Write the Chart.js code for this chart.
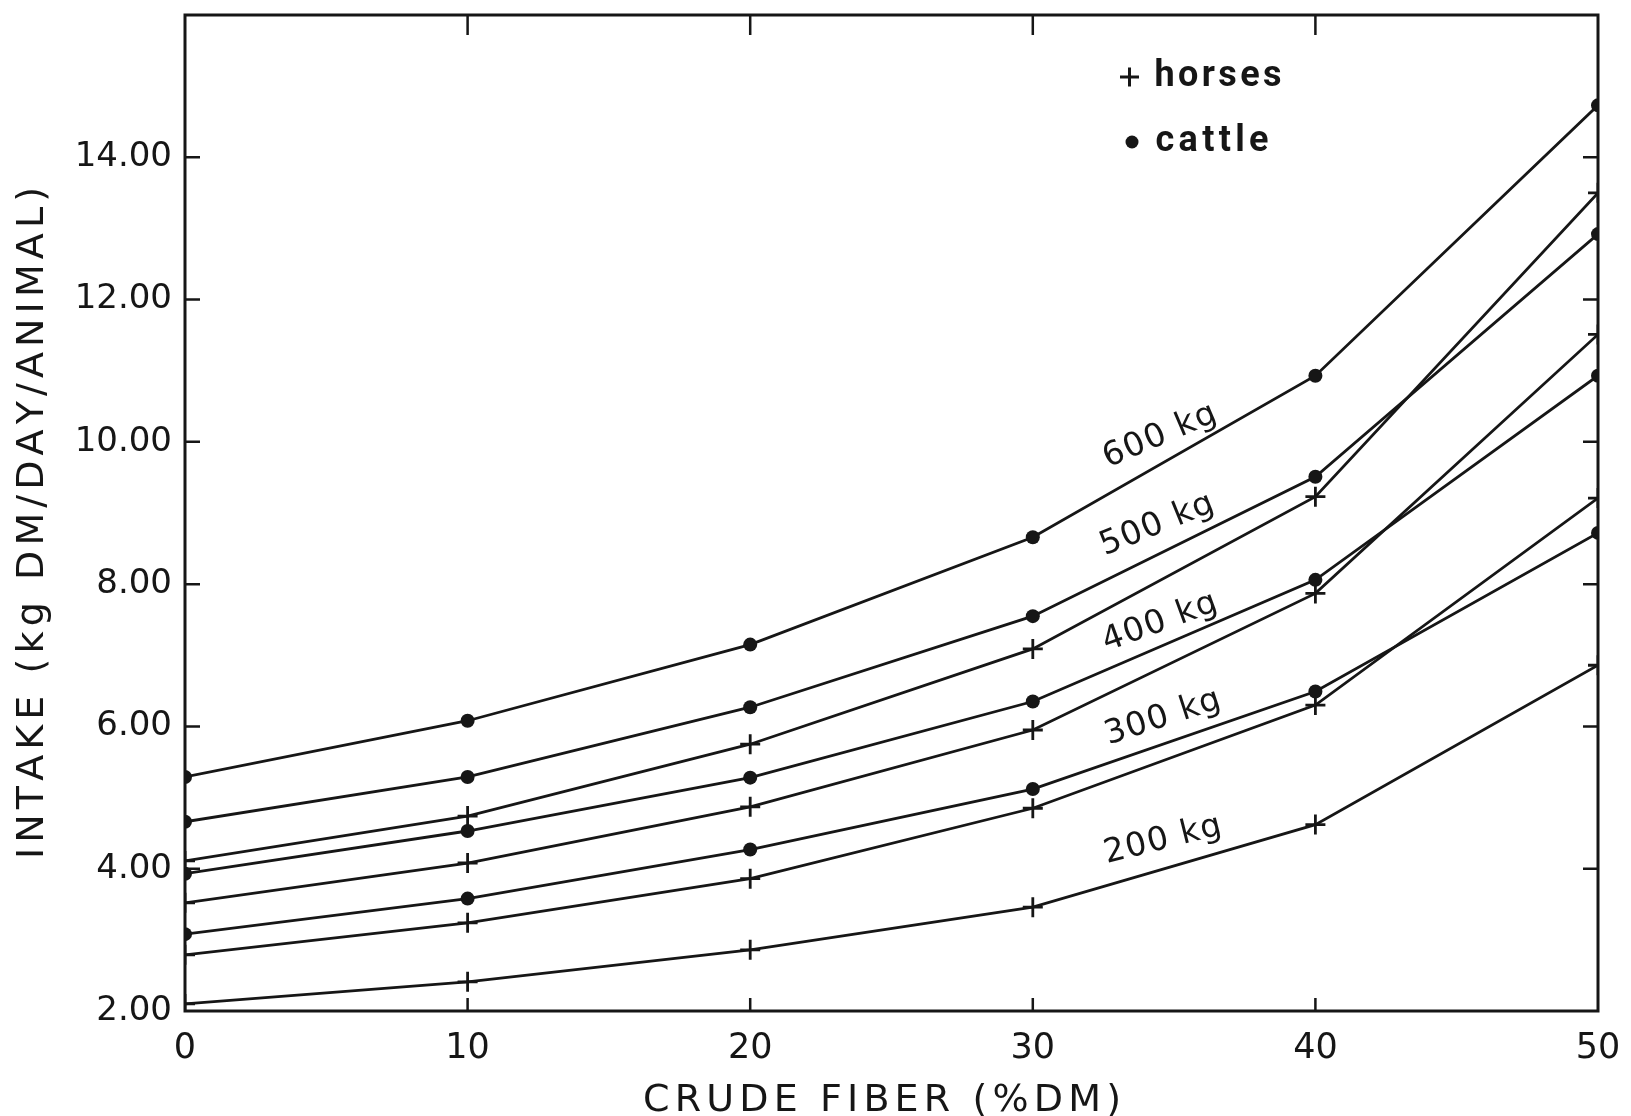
<!DOCTYPE html>
<html>
<head>
<meta charset="utf-8">
<script src="https://cdn.jsdelivr.net/npm/chart.js@4.4.1/dist/chart.umd.min.js"></script>
<style>
  html, body { margin: 0; padding: 0; background: #ffffff; }
  #wrap { width: 1631px; height: 1116px; }
</style>
</head>
<body>
<div id="wrap"><canvas id="c" width="1631" height="1116"></canvas></div>
<script>
// Crude fiber content of the diet (% of dry matter)
const fiber = [0, 10, 20, 30, 40, 50];

// Daily dry-matter intake (kg DM/day/animal), cattle by body weight
const cattle600 = [5.29, 6.08, 7.15, 8.66, 10.93, 14.73];
const cattle500 = [4.66, 5.29, 6.27, 7.55, 9.51, 12.92];
const cattle400 = [3.93, 4.53, 5.28, 6.35, 8.06, 10.93];
const cattle300 = [3.08, 3.58, 4.27, 5.12, 6.49, 8.72];

// Daily dry-matter intake (kg DM/day/animal), horses by body weight
const horses500 = [4.11, 4.74, 5.75, 7.09, 9.23, 13.50];
const horses400 = [3.52, 4.08, 4.87, 5.95, 7.87, 11.51];
const horses300 = [2.79, 3.24, 3.86, 4.85, 6.30, 9.21];
const horses200 = [2.10, 2.41, 2.86, 3.46, 4.62, 6.86];

// Axis ticks
const yTicks = [2, 4, 6, 8, 10, 12, 14];
const xTicks = [0, 10, 20, 30, 40, 50];

// Body-weight labels written along the curves
const weightLabels = ['600 kg', '500 kg', '400 kg', '300 kg', '200 kg'];

const INK = '#161616';
const FONT = '"DejaVu Sans", "Liberation Sans", sans-serif';

// Placement of the body-weight labels in data units, with their tilt
const weightLabelPlacement = [
  { x: 34.5, y: 10.08, angle: -23 },
  { x: 34.4, y: 8.83, angle: -22 },
  { x: 34.5, y: 7.46, angle: -20 },
  { x: 34.6, y: 6.12, angle: -18 },
  { x: 34.6, y: 4.40, angle: -14 }
];

function toPoints(values) {
  return fiber.map((f, i) => ({ x: f, y: values[i] }));
}

function cattleSet(label, values) {
  return {
    label: label,
    data: toPoints(values),
    borderColor: INK,
    borderWidth: 2.8,
    pointStyle: 'circle',
    pointRadius: 7,
    pointBackgroundColor: INK,
    pointBorderColor: INK,
    pointBorderWidth: 0,
    tension: 0,
    fill: false
  };
}

function horseSet(label, values) {
  return {
    label: label,
    data: toPoints(values),
    borderColor: INK,
    borderWidth: 2.8,
    pointStyle: 'cross',
    pointRadius: 10,
    pointBorderColor: INK,
    pointBackgroundColor: INK,
    pointBorderWidth: 2.8,
    tension: 0,
    fill: false
  };
}

// Draws a string centred on (cx, cy), stretching the gaps between letters to a given width
function spacedText(ctx, text, cx, cy, targetWidth) {
  const chars = [...text];
  const widths = chars.map(ch => ctx.measureText(ch).width);
  const natural = widths.reduce((a, b) => a + b, 0);
  const gap = chars.length > 1 ? (targetWidth - natural) / (chars.length - 1) : 0;
  let x = cx - targetWidth / 2;
  ctx.textAlign = 'left';
  ctx.textBaseline = 'middle';
  chars.forEach((ch, i) => {
    ctx.fillText(ch, x, cy);
    x += widths[i] + gap;
  });
}

// Keeps the plot frame where the layout padding puts it
function noEdgePadding(scale) {
  scale.paddingTop = 0;
  scale.paddingBottom = 0;
  scale.paddingLeft = 0;
  scale.paddingRight = 0;
}

// Frame, inward tick marks, axis titles, key and curve labels
const frameAndNotes = {
  id: 'frameAndNotes',
  afterDatasetsDraw(chart) {
    const ctx = chart.ctx;
    const area = chart.chartArea;
    const xs = chart.scales.x;
    const ys = chart.scales.y;
    ctx.save();
    ctx.strokeStyle = INK;
    ctx.fillStyle = INK;
    ctx.lineCap = 'butt';

    // frame
    ctx.lineWidth = 3;
    ctx.strokeRect(area.left, area.top, area.right - area.left, area.bottom - area.top);

    // inward ticks on left and right edges
    ctx.lineWidth = 2.5;
    yTicks.forEach(v => {
      if (v === ys.min) return;
      const py = ys.getPixelForValue(v);
      ctx.beginPath();
      ctx.moveTo(area.left, py); ctx.lineTo(area.left + 15, py);
      ctx.moveTo(area.right, py); ctx.lineTo(area.right - 15, py);
      ctx.stroke();
    });
    // inward ticks on top and bottom edges
    xTicks.forEach(v => {
      if (v === xs.min || v === xs.max) return;
      const px = xs.getPixelForValue(v);
      ctx.beginPath();
      ctx.moveTo(px, area.top); ctx.lineTo(px, area.top + 20);
      ctx.moveTo(px, area.bottom); ctx.lineTo(px, area.bottom - 13);
      ctx.stroke();
    });

    // x-axis title
    ctx.font = '38px ' + FONT;
    spacedText(ctx, 'CRUDE FIBER (%DM)', 882, 1101, 478);

    // y-axis title
    ctx.save();
    ctx.translate(33, 523);
    ctx.rotate(-Math.PI / 2);
    spacedText(ctx, 'INTAKE (kg DM/DAY/ANIMAL)', 0, 0, 672);
    ctx.restore();

    // key
    ctx.lineWidth = 3;
    ctx.beginPath();
    ctx.moveTo(1120, 77); ctx.lineTo(1139, 77);
    ctx.moveTo(1129.5, 67.5); ctx.lineTo(1129.5, 86.5);
    ctx.stroke();
    ctx.beginPath();
    ctx.arc(1132, 142, 6.5, 0, Math.PI * 2);
    ctx.fill();
    ctx.font = 'bold 36px "Liberation Sans Narrow", "Roboto", sans-serif';
    spacedText(ctx, 'horses', 1218, 77, 127);
    spacedText(ctx, 'cattle', 1212, 142, 113);

    // body-weight labels along the curves
    ctx.font = '33px ' + FONT;
    weightLabels.forEach((txt, i) => {
      const p = weightLabelPlacement[i];
      ctx.save();
      ctx.translate(xs.getPixelForValue(p.x), ys.getPixelForValue(p.y));
      ctx.rotate(p.angle * Math.PI / 180);
      spacedText(ctx, txt, 0, 0, 120);
      ctx.restore();
    });

    ctx.restore();
  }
};

new Chart(document.getElementById('c'), {
  type: 'line',
  data: {
    datasets: [
      cattleSet('Cattle 600 kg', cattle600),
      cattleSet('Cattle 500 kg', cattle500),
      horseSet('Horses 500 kg', horses500),
      cattleSet('Cattle 400 kg', cattle400),
      horseSet('Horses 400 kg', horses400),
      cattleSet('Cattle 300 kg', cattle300),
      horseSet('Horses 300 kg', horses300),
      horseSet('Horses 200 kg', horses200)
    ]
  },
  options: {
    responsive: false,
    animation: false,
    layout: { padding: { left: 0, top: 15, right: 33, bottom: 0 } },
    plugins: {
      legend: { display: false },
      tooltip: { enabled: false }
    },
    scales: {
      x: {
        type: 'linear',
        min: 0,
        max: 50,
        afterBuildTicks: scale => { scale.ticks = xTicks.map(v => ({ value: v })); },
        afterFit: scale => { scale.height = 105; noEdgePadding(scale); },
        grid: { display: false },
        border: { display: false },
        ticks: {
          color: INK,
          font: { family: FONT, size: 35 },
          padding: 9,
          maxRotation: 0,
          callback: v => String(v)
        }
      },
      y: {
        type: 'linear',
        min: 2,
        max: 16,
        afterBuildTicks: scale => { scale.ticks = yTicks.map(v => ({ value: v })); },
        afterFit: scale => { scale.width = 185; noEdgePadding(scale); },
        grid: { display: false },
        border: { display: false },
        ticks: {
          color: INK,
          font: { family: FONT, size: 34 },
          padding: 5,
          callback: v => Number(v).toFixed(2)
        }
      }
    }
  },
  plugins: [frameAndNotes]
});
</script>
</body>
</html>
